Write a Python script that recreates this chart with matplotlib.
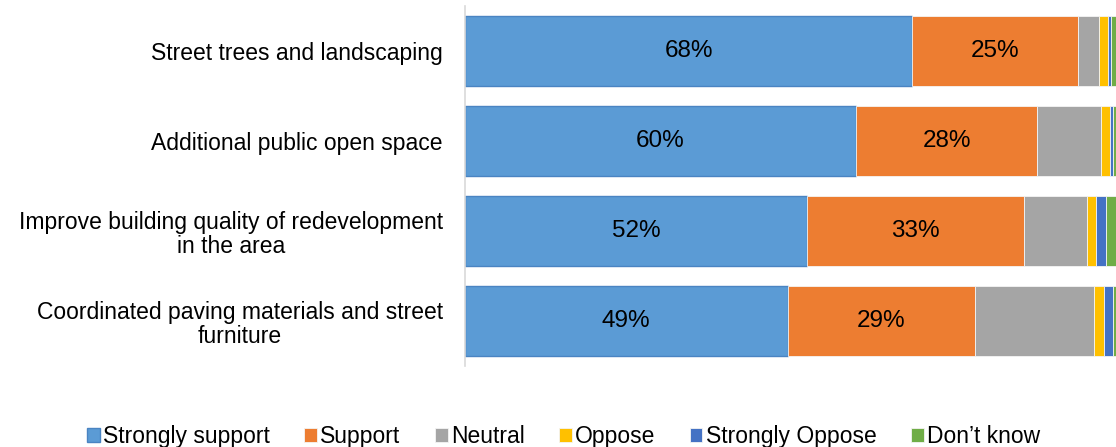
import numpy as np
import matplotlib
matplotlib.use("Agg")
import matplotlib.pyplot as plt

plt.rcParams['font.family'] = ['Liberation Sans', 'DejaVu Sans']

# survey items, top to bottom
items = ["Street trees and landscaping",
         "Additional public open space",
         "Improve building quality of redevelopment\nin the area",
         "Coordinated paving materials and street\nfurniture"]

# response shares (%) per item
strongly_support = [68.1, 59.5, 52.0, 49.1]
support = [25.2, 27.6, 33.1, 28.6]
neutral = [3.2, 9.7, 9.6, 18.1]
oppose = [1.4, 1.4, 1.4, 1.4]
strongly_oppose = [0.5, 0.5, 1.4, 1.4]
dont_know = [1.6, 1.3, 2.5, 1.4]

series = [("Strongly support", strongly_support, "#5b9bd5"),
          ("Support", support, "#ed7d31"),
          ("Neutral", neutral, "#a5a5a5"),
          ("Oppose", oppose, "#ffc000"),
          ("Strongly Oppose", strongly_oppose, "#4472c4"),
          ("Don\u2019t know", dont_know, "#70ad47")]

fig = plt.figure(figsize=(11.16, 4.47), dpi=100)
# plot area runs a little past the right edge of the figure
ax = fig.add_axes([465/1116, 1 - 366/447, (1122 - 465)/1116, 360/447])

y = np.arange(len(items))
left = np.zeros(len(items))
for i, (name, vals, col) in enumerate(series):
    vals = np.array(vals)
    edge = "#4a84c2" if i == 0 else "#f4f4f4"
    bars = ax.barh(y, vals, left=left, height=0.78, color=col, label=name,
                   edgecolor=edge, linewidth=1.0 if i == 0 else 0.6)
    if i < 2:
        for b, v in zip(bars, vals):
            ax.text(b.get_x() + b.get_width()/2, b.get_y() + b.get_height()/2,
                    "%.0f%%" % v, ha="center", va="center", fontsize=17.5, color="black")
    left += vals

ax.set_xlim(0, 100)
ax.set_ylim(3.5, -0.5)
ax.set_yticks(y)
ax.set_yticklabels(items, fontsize=16.5, linespacing=1.1)
for lbl in ax.get_yticklabels():
    lbl.set_multialignment("center")
ax.tick_params(axis="y", length=0, pad=16)
ax.set_xticks([])
for s in ["top", "right", "bottom"]:
    ax.spines[s].set_visible(False)
ax.spines["left"].set_color("#d9d9d9")
ax.spines["left"].set_linewidth(1.2)

fig.legend(loc="center", bbox_to_anchor=(0.505, 0.023), ncol=6, frameon=False,
           fontsize=16.5, handlelength=0.55, handleheight=0.55, handletextpad=0.15,
           columnspacing=1.5, borderaxespad=0)

fig.savefig("out.png", dpi=100)
